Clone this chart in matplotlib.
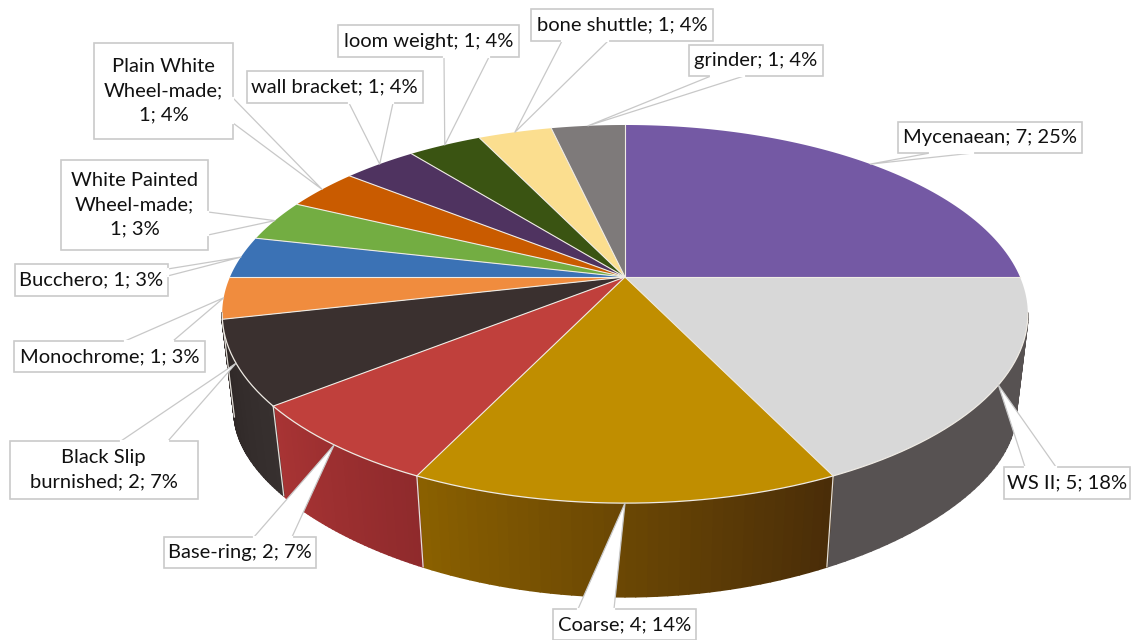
import numpy as np
import matplotlib
matplotlib.use('Agg')
import matplotlib.pyplot as plt
from matplotlib.collections import PolyCollection

categories = ['Mycenaean', 'WS II', 'Coarse', 'Base-ring', 'Black Slip burnished', 'Monochrome',
              'Bucchero', 'White Painted Wheel-made', 'Plain White Wheel-made', 'wall bracket',
              'loom weight', 'bone shuttle', 'grinder']
counts = [7, 5, 4, 2, 2, 1, 1, 1, 1, 1, 1, 1, 1]
labels = ['Mycenaean; 7; 25%', 'WS II; 5; 18%', 'Coarse; 4; 14%', 'Base-ring; 2; 7%',
          'Black Slip\nburnished; 2; 7%', 'Monochrome; 1; 3%', 'Bucchero; 1; 3%',
          'White Painted\nWheel-made;\n1; 3%', 'Plain White\nWheel-made;\n1; 4%',
          'wall bracket; 1; 4%', 'loom weight; 1; 4%', 'bone shuttle; 1; 4%', 'grinder; 1; 4%']

# colours
top_colors = ['#7459A4', '#D8D8D8', '#C08E00', '#C0403C', '#3A302F', '#F08C3E', '#3B72B5',
              '#73AD42', '#C95B00', '#4F3360', '#3A5412', '#FBDE8F', '#7E7A7A']
side_start = ['#554343', '#575252', '#4A2D08', '#8F2A2C', '#37302F', '#37302F', '#37302F',
              '#37302F', '#37302F', '#37302F', '#37302F', '#37302F', '#37302F']
side_end = ['#554343', '#575252', '#8A6000', '#A83434', '#2F2827', '#2F2827', '#2F2827',
            '#2F2827', '#2F2827', '#2F2827', '#2F2827', '#2F2827', '#2F2827']

# label box: left, top, right, bottom, tail base (x1, y1), (x2, y2)
boxes = [
    (898, 122, 1082, 153, (930, 153), (973, 153)),
    (1004, 467, 1130, 499, (1025, 467), (1056, 467)),
    (553, 609, 696, 640, (578, 609), (614, 609)),
    (163.5, 537, 316, 568, (254, 537), (292, 537)),
    (10, 441, 197.5, 499, (121, 441), (168, 441)),
    (13.5, 341, 205, 372, (125, 341), (173, 341)),
    (15, 264, 167.5, 296, (167.5, 269), (167.5, 276)),
    (61, 160, 208, 250, (208, 212), (208, 235)),
    (94, 43, 233, 139, (233, 98), (233, 123)),
    (247, 71, 422.5, 103, (349, 103), (393, 103)),
    (338, 25, 519, 57, (444, 57), (489, 57)),
    (531, 9, 713, 41, (562, 41), (608, 41)),
    (689, 45, 823, 76, (711, 76), (744, 76)),
]

cx = 625
cy = 277
side_from = np.radians(101)
side_to = np.radians(259)
line_color = '#EFEBE4'


def top_rim(th):
    w = 1 + 0.196 * np.cos(th)
    return cx + 395 * np.sin(th) / w, cy - 181.8 * np.cos(th) / w


def bottom_rim(th):
    w = 1 + 0.196 * np.cos(th)
    return cx + 0.97 * 395 * np.sin(th) / w, 382 - 146 * np.cos(th) / (1 + 0.32 * np.cos(th))


def rgb(c):
    return np.array(matplotlib.colors.to_rgb(c))


fig = plt.figure(figsize=(11.31, 6.4), dpi=100)
ax = fig.add_axes([0, 0, 1, 1])
ax.set_xlim(0, 1131)
ax.set_ylim(640, 0)
ax.axis('off')

edges = np.cumsum([0] + counts) / sum(counts) * 2 * np.pi

# side of the pie, only the part that faces the viewer
for i in range(len(counts)):
    a0 = max(edges[i], side_from)
    a1 = min(edges[i + 1], side_to)
    if a1 <= a0:
        continue
    ths = np.linspace(a0, a1, 41)
    polys = []
    cols = []
    for j in range(40):
        xa, ya = top_rim(ths[j])
        xb, yb = top_rim(ths[j + 1])
        xc, yc = bottom_rim(ths[j + 1])
        xd, yd = bottom_rim(ths[j])
        polys.append([(xa, ya), (xb, yb), (xc, yc), (xd, yd)])
        f = j / 39
        cols.append(rgb(side_start[i]) * (1 - f) + rgb(side_end[i]) * f)
    ax.add_collection(PolyCollection(polys, facecolors=cols, edgecolors=cols, linewidths=1.3, zorder=2))

# pale lines between the side pieces
for e in edges:
    if side_from < e < side_to:
        x0, y0 = top_rim(e)
        x1, y1 = bottom_rim(e)
        ax.plot([x0, x1], [y0, y1], color='#E4E0DA', lw=0.9, zorder=3)

# top of the pie
for i in range(len(counts)):
    ths = np.linspace(edges[i], edges[i + 1], 80)
    xs, ys = top_rim(ths)
    ax.fill(np.r_[cx, xs], np.r_[cy, ys], facecolor=top_colors[i], edgecolor='none', zorder=4)
for e in edges[:-1]:
    x0, y0 = top_rim(e)
    ax.plot([cx, x0], [cy, y0], color=line_color, lw=0.8, zorder=4)
xs, ys = top_rim(np.linspace(side_from, side_to, 200))
ax.plot(xs, ys, color=line_color, lw=0.9, zorder=4)

# callout labels
for i, lab in enumerate(labels):
    left, top, right, bottom, p1, p2 = boxes[i]
    tip = top_rim((edges[i] + edges[i + 1]) / 2)
    ax.fill([left, right, right, left], [top, top, bottom, bottom], facecolor='white',
            edgecolor='#CACACA', lw=1.2, zorder=5)
    ax.fill([p1[0], tip[0], p2[0]], [p1[1], tip[1], p2[1]], facecolor='white', edgecolor='none', zorder=6)
    ax.plot([p1[0], tip[0], p2[0]], [p1[1], tip[1], p2[1]], color='#C8C8C8', lw=0.9, zorder=6)
    ax.plot([p1[0], p2[0]], [p1[1], p2[1]], color='white', lw=1.6, zorder=6)
    ax.text((left + right) / 2, (top + bottom) / 2, lab, ha='center', va='center', fontsize=14.5,
            family='Lato', color='#111111', linespacing=1.5, zorder=7)

fig.savefig('out.png', dpi=100)
